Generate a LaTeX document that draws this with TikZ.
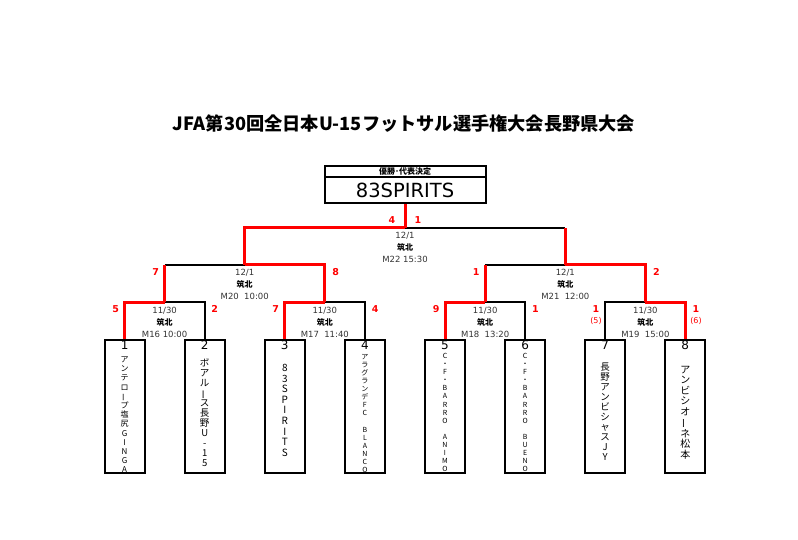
\documentclass[tikz,border=0pt]{standalone}
\usepackage{fontspec}
\setmainfont{Noto Sans CJK JP}
\newfontfamily\latin{DejaVu Sans}
\usetikzlibrary{positioning}
\tikzset{winline/.style={red, line width=3pt}, loseline/.style={black, line width=2pt}}
\tikzset{team/.style={draw, line width=2pt, minimum width=40pt, minimum height=133pt, inner sep=0pt},
  score/.style={text=red, inner sep=0pt, font=\latin\bfseries\fontsize{9.5}{9.5}\selectfont},
  pk/.style={text=red, inner sep=0pt, font=\latin\fontsize{8}{8}\selectfont},
  info/.style={align=center, inner sep=0pt, text=black!80, font=\latin\fontsize{8.5}{12}\selectfont},
  num/.style={inner sep=0pt, font=\latin\fontsize{12}{12}\selectfont},
  vname/.style 2 args={align=center, inner sep=0pt, anchor=north, font=\fontsize{#1}{#2}\selectfont}}
\newcommand\tatebar{\rotatebox[origin=c]{90}{ー}}
\newcommand\venue{{\rmfamily\bfseries\color{black}\fontsize{8}{8}\selectfont 筑北}}

\begin{document}
\begin{tikzpicture}[x=1pt,y=-1pt]
   \useasboundingbox (0,0) rectangle (798,540);
   \node[font=\bfseries\fontsize{18.2}{19}\selectfont] (title) at (404,124) {JFA第30回全日本U-15フットサル選手権大会長野県大会};
   % champion
   \node[draw, line width=2pt, minimum width=161pt, minimum height=26pt, inner sep=0pt, font=\latin\fontsize{19.5}{19.5}\selectfont] (champ) at (405,190) {83SPIRITS};
   \node[draw, line width=2pt, minimum width=161pt, minimum height=11pt, inner sep=0pt, font=\bfseries\fontsize{8}{8}\selectfont, above=-2pt of champ] (champhead) {優勝･代表決定};
   % teams
   \foreach \i in {1,...,8} {
    \node[team] (t\i) at (44.5+80.1*\i,406.5) {};
    \node[num] (n\i) at (44.5+80.1*\i,345.5) {\i};
   }
   % matches
   \coordinate (m16) at (164.6,302);
   \coordinate (m17) at (324.8,302);
   \coordinate (m18) at (485.2,302);
   \coordinate (m19) at (645.4,302);
   \coordinate (m20) at (244.7,265);
   \coordinate (m21) at (565.3,265);
   \coordinate (m22) at (405.0,228);
   % losing lines
   \draw[loseline] (m16) -| (t2.north);
   \draw[loseline] (m17) -| (t4.north);
   \draw[loseline] (m18) -| (t6.north);
   \draw[loseline] (t7.north) |- (m19);
   \draw[loseline] (m16 |- m20) -- (m20);
   \draw[loseline] (m18 |- m21) -- (m21);
   \draw[loseline] (m22) -- (m21 |- m22);
   % winning lines
   \draw[winline] (t1.north) |- (m16);
   \draw[winline] (t3.north) |- (m17);
   \draw[winline] (t5.north) |- (m18);
   \draw[winline] (m19) -| (t8.north);
   \draw[winline] (m16) -- (m16 |- m20);
   \draw[winline] (m17) |- (m20);
   \draw[winline] (m18) -- (m18 |- m21);
   \draw[winline] (m19) |- (m21);
   \draw[winline] (m20) |- (m22);
   \draw[winline] (m21) -- (m21 |- m22);
   \draw[winline] (m22) -- (champ.south);
   % match info
   \node[info] (i22) at (405.0,247) {12/1\\\venue\\M22 15:30};
   \node[info] (i20) at (244.7,284) {12/1\\\venue\\M20~~10:00};
   \node[info] (i21) at (565.3,284) {12/1\\\venue\\M21~~12:00};
   \node[info] (i16) at (164.6,322) {11/30\\\venue\\M16 10:00};
   \node[info] (i17) at (324.8,322) {11/30\\\venue\\M17~~11:40};
   \node[info] (i18) at (485.2,322) {11/30\\\venue\\M18~~13:20};
   \node[info] (i19) at (645.4,322) {11/30\\\venue\\M19~~15:00};
   % scores
   \node[score] (s22a) at (392,220) {4};
   \node[score] (s22b) at (418,220) {1};
   \node[score] (s20a) at (155.6,272) {7};
   \node[score] (s20b) at (335.8,272) {8};
   \node[score] (s21a) at (476.2,272) {1};
   \node[score] (s21b) at (656.3,272) {2};
   \node[score] (s16a) at (115.6,309) {5};
   \node[score] (s16b) at (214.7,309) {2};
   \node[score] (s17a) at (275.8,309) {7};
   \node[score] (s17b) at (375.1,309) {4};
   \node[score] (s18a) at (436.2,309) {9};
   \node[score] (s18b) at (535.5,309) {1};
   \node[score] (s19a) at (596.0,309) {1};
   \node[score] (s19b) at (696.0,309) {1};
   \node[pk] (p19a) at (596.0,321) {(5)};
   \node[pk] (p19b) at (696.0,321) {(6)};
   % team names
   \node[vname={8}{9.2}] (name1) at (t1.north |- 0,356.5) {ア\\ン\\テ\\ロ\\\tatebar\\プ\\塩\\尻\\G\\I\\N\\G\\A};
   \node[vname={9.5}{10}] (name2) at (t2.north |- 0,359) {ボ\\ア\\ル\\\tatebar\\ス\\長\\野\\U\\-\\1\\5};
   \node[vname={10}{10.6}] (name3) at (t3.north |- 0,364) {8\\3\\S\\P\\I\\R\\I\\T\\S};
   \node[vname={7}{8.1}] (name4) at (t4.north |- 0,354) {ア\\ラ\\グ\\ラ\\ン\\デ\\F\\C\\~\\B\\L\\A\\N\\C\\O};
   \node[vname={7}{8.1}] (name5) at (t5.north |- 0,353) {C\\・\\F\\・\\B\\A\\R\\R\\O\\~\\A\\N\\I\\M\\O};
   \node[vname={7}{8.1}] (name6) at (t6.north |- 0,353) {C\\・\\F\\・\\B\\A\\R\\R\\O\\~\\B\\U\\E\\N\\O};
   \node[vname={9.5}{10}] (name7) at (t7.north |- 0,363) {長\\野\\ア\\ン\\ビ\\シ\\ャ\\ス\\J\\Y};
   \node[vname={10}{10.4}] (name8) at (t8.north |- 0,366) {ア\\ン\\ビ\\シ\\オ\\\tatebar\\ネ\\松\\本};
  \end{tikzpicture}
\end{document}
